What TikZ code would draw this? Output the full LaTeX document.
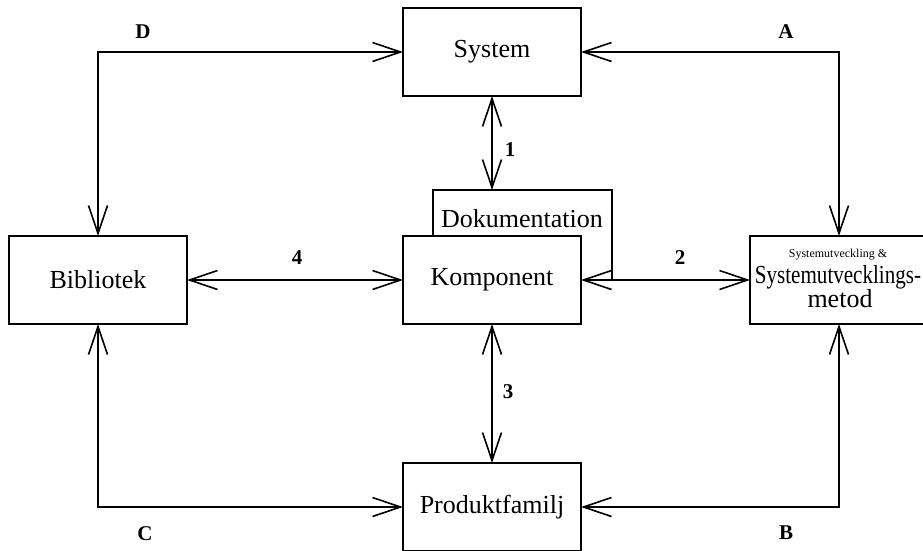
\documentclass[tikz,border=0pt]{standalone}
\usepackage{fontspec}
\setmainfont{Liberation Serif}
\usetikzlibrary{arrows.meta}
\begin{document}
\begin{tikzpicture}[x=1pt,y=-1pt,
  box/.style={draw,line width=1.8pt,minimum width=178pt,minimum height=88pt,inner sep=0pt,outer sep=0pt,font=\fontsize{26}{30}\selectfont},
  lbl/.style={font=\fontsize{21}{24}\selectfont\bfseries},
  conn/.style={line width=1.6pt,{Straight Barb[length=28pt,width=19pt]}-{Straight Barb[length=28pt,width=19pt]}}]
\useasboundingbox (0,0) rectangle (923,550);
\node[box] (sys) at (492,52) {System};
\node[box] (komp) at (492,280) {Komponent};
\node[box] (bib) at (98,280) {Bibliotek};
\node[box] (sm) at (839,280) {};
\node[box] (prod) at (492,507) {Produktfamilj};
% Dokumentation tab
\draw[line width=1.8pt] (433,236) -- (433,190) -- (612,190) -- (612,280);
\node[font=\fontsize{26}{30}\selectfont] (dok) at (522,219) {Dokumentation};
\coordinate (doktop) at (492,190);
% Systemutveckling text
\node[anchor=base,font=\fontsize{12}{14}\selectfont] (smt1) at (838,257) {Systemutveckling \&};
\node[anchor=base,font=\fontsize{26}{30}\selectfont] (smt2) at (838,283) {\scalebox{0.81}[1]{Systemutvecklings-}};
\node[anchor=base,font=\fontsize{26}{30}\selectfont] (smt3) at (840,307) {metod};
% connectors
\draw[conn] (sys.west) -| (bib.north);
\draw[conn] (sys.east) -| (sm.north);
\draw[conn] (bib.south) |- (prod.west);
\draw[conn] (sm.south) |- (prod.east);
\draw[conn] (sys.south) -- (doktop);
\draw[conn] (komp.east) -- (sm.west);
\draw[conn] (komp.south) -- (prod.north);
\draw[conn] (bib.east) -- (komp.west);
% labels
\node[lbl] (lD) at (143,32) {D};
\node[lbl] (lA) at (786,32) {A};
\node[lbl] (lC) at (145,534) {C};
\node[lbl] (lB) at (786,533) {B};
\node[lbl] (l1) at (510,150) {1};
\node[lbl] (l3) at (508,392) {3};
\node[lbl] (l4) at (297,258) {4};
\node[lbl] (l2) at (680,258) {2};
\end{tikzpicture}
\end{document}
